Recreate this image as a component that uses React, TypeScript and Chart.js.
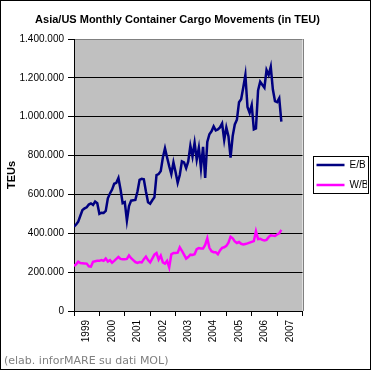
import { useEffect, useRef } from 'react';
import { Chart, registerables } from 'chart.js';

Chart.register(...registerables);

const TITLE = 'Asia/US Monthly Container Cargo Movements (in TEU)';
const FOOTER = '(elab. inforMARE su dati MOL)';
const Y_TITLE = 'TEUs';
const YEARS = ['1999', '2000', '2001', '2002', '2003', '2004', '2005', '2006', '2007'];
const SERIES_NAMES = ['E/B', 'W/B'];

// Monthly TEU, starting Jan 1999
const EB = [
  434000, 445000, 460000, 490000, 520000, 528000, 534000, 548000, 554000, 546000, 563000, 555000,
  500000, 506000, 505000, 515000, 580000, 605000, 625000, 655000, 660000, 685000, 625000, 555000,
  560000, 465000, 540000, 568000, 570000, 572000, 615000, 675000, 680000, 678000, 615000, 560000,
  552000, 570000, 585000, 700000, 705000, 720000, 790000, 837000, 790000, 745000, 705000, 765000,
  715000, 660000, 700000, 770000, 765000, 735000, 770000, 850000, 795000, 865000, 780000, 840000,
  735000, 845000, 685000, 870000, 910000, 925000, 950000, 930000, 935000, 945000, 965000, 880000,
  945000, 900000, 790000, 900000, 960000, 985000, 1075000, 1090000, 1150000, 1215000, 1050000, 1020000,
  1060000, 935000, 940000, 1135000, 1180000, 1165000, 1150000, 1240000, 1215000, 1257000, 1140000, 1080000,
  1075000, 1095000, 975000,
];

const WB = [
  232000, 240000, 254000, 247000, 246000, 245000, 244000, 230000, 228000, 253000, 256000, 258000,
  258000, 262000, 258000, 270000, 255000, 262000, 249000, 258000, 268000, 278000, 268000, 266000,
  266000, 268000, 286000, 272000, 262000, 252000, 248000, 252000, 250000, 266000, 280000, 262000,
  250000, 270000, 290000, 298000, 265000, 285000, 250000, 244000, 258000, 224000, 292000, 298000,
  298000, 300000, 328000, 310000, 290000, 270000, 278000, 290000, 288000, 292000, 318000, 324000,
  322000, 322000, 340000, 374000, 325000, 308000, 303000, 303000, 292000, 312000, 325000, 328000,
  335000, 352000, 382000, 374000, 358000, 350000, 355000, 346000, 342000, 345000, 348000, 352000,
  356000, 360000, 410000, 370000, 372000, 366000, 363000, 366000, 380000, 390000, 388000, 386000,
  394000, 400000, 418000,
];

const Y_MAX = 1400000;
const Y_STEP = 200000;
const MONTHS_SPAN = YEARS.length * 12;

const FONT = 'Liberation Sans, Arial, sans-serif';

const fmt = (v: number) => String(Math.round(v)).replace(/\B(?=(\d{3})+(?!\d))/g, '.');

const plotBg = {
  id: 'plotBg',
  afterLayout(chart: any) {
    // the original title is centred slightly left of the canvas centre
    if (chart.titleBlock) chart.titleBlock.right -= 16;
  },
  beforeDraw(chart: any) {
    const { ctx, chartArea } = chart;
    const { left, top, right, bottom } = chartArea;
    ctx.save();
    ctx.fillStyle = '#C0C0C0';
    ctx.fillRect(left, top, right - left, bottom - top);
    ctx.strokeStyle = '#808080';
    ctx.lineWidth = 1;
    ctx.beginPath();
    ctx.moveTo(Math.round(right) + 0.5, Math.round(top));
    ctx.lineTo(Math.round(right) + 0.5, Math.round(bottom));
    ctx.stroke();
    ctx.restore();
  },
};

const legendBox = {
  id: 'legendBox',
  afterDraw(chart: any) {
    const lg = chart.legend;
    if (!lg || !lg.legendHitBoxes || !lg.legendHitBoxes.length) return;
    let l = Infinity, t = Infinity, r = -Infinity, b = -Infinity;
    for (const h of lg.legendHitBoxes) {
      l = Math.min(l, h.left);
      t = Math.min(t, h.top);
      r = Math.max(r, h.left + h.width);
      b = Math.max(b, h.top + h.height);
    }
    const { ctx } = chart;
    ctx.save();
    ctx.strokeStyle = '#000';
    ctx.lineWidth = 1;
    const x0 = Math.round(l - 4) + 0.5;
    const y0 = Math.round(t - 4) + 0.5;
    const x1 = Math.round(r) + 0.5;
    const y1 = Math.round(b + 3) + 0.5;
    ctx.strokeRect(x0, y0, x1 - x0, y1 - y0);
    ctx.restore();
  },
};

export default function App() {
  const ref = useRef<HTMLCanvasElement>(null);

  useEffect(() => {
    document.body.style.margin = '0';
    const canvas = ref.current;
    if (!canvas) return;
    const chart = new Chart(canvas, {
      type: 'line',
      data: {
        datasets: [
          {
            label: SERIES_NAMES[0],
            data: EB.map((y, i) => ({ x: i, y })),
            borderColor: '#000080',
            backgroundColor: '#000080',
            borderWidth: 2.5,
            pointRadius: 0,
            tension: 0,
            xAxisID: 'x',
            yAxisID: 'y',
          },
          {
            label: SERIES_NAMES[1],
            data: WB.map((y, i) => ({ x: i, y })),
            borderColor: '#FF00FF',
            backgroundColor: '#FF00FF',
            borderWidth: 2.5,
            pointRadius: 0,
            tension: 0,
            xAxisID: 'x',
            yAxisID: 'y',
          },
        ],
      },
      options: {
        responsive: false,
        animation: false,
        events: [],
        devicePixelRatio: 1,
        layout: { padding: { left: 3, right: 3, top: 0, bottom: 0 } },
        scales: {
          x: {
            type: 'linear',
            position: 'bottom',
            weight: 0,
            min: 0,
            max: MONTHS_SPAN,
            ticks: { display: false, stepSize: 12 },
            grid: { display: true, drawOnChartArea: false, drawTicks: true, tickLength: 5, color: '#000', tickColor: '#000' },
            border: { display: true, color: '#000', width: 1 },
            afterFit: (s: any) => { s.height = 6; },
          },
          x2: {
            type: 'category',
            position: 'bottom',
            weight: 1,
            labels: YEARS,
            offset: true,
            grid: { display: false, drawTicks: false },
            border: { display: false },
            ticks: {
              autoSkip: false,
              maxRotation: 90,
              minRotation: 90,
              padding: 3,
              color: '#000',
              font: { family: FONT, size: 10 },
            },
            afterFit: (s: any) => { s.height = 26; },
          },
          y: {
            type: 'linear',
            position: 'left',
            min: 0,
            max: Y_MAX,
            ticks: {
              stepSize: Y_STEP,
              color: '#000',
              padding: 4,
              font: { family: FONT, size: 10 },
              callback: (v: any) => fmt(Number(v)),
            },
            grid: {
              color: (c: any) => (c.tick && c.tick.value === Y_MAX ? '#808080' : '#000'),
              tickColor: '#000',
              tickLength: 6,
              lineWidth: 1,
            },
            border: { display: true, color: '#000', width: 1 },
            title: {
              display: true,
              text: Y_TITLE,
              color: '#000',
              font: { family: FONT, size: 11, weight: 'bold' },
              padding: { top: 1, bottom: 0 },
            },
            afterFit: (s: any) => { s.width = 70; },
          },
          y2: {
            type: 'linear',
            position: 'right',
            display: true,
            weight: 0,
            grid: { display: false },
            border: { display: false },
            ticks: { display: false },
            afterFit: (s: any) => { s.width = 4; },
          },
        },
        plugins: {
          title: {
            display: true,
            text: TITLE,
            color: '#000',
            font: { family: FONT, size: 11, weight: 'bold', lineHeight: 1.2 },
            padding: { top: 12, bottom: 12.8 },
          },
          subtitle: {
            display: true,
            text: FOOTER,
            position: 'bottom',
            align: 'start',
            color: '#808080',
            font: { family: 'DejaVu Sans, sans-serif', size: 11, weight: 'normal', lineHeight: 1.2 },
            padding: { top: 11.4, bottom: 1.4 },
          },
          legend: {
            display: true,
            position: 'right',
            fullSize: false,
            labels: {
              usePointStyle: true,
              pointStyle: 'line',
              pointStyleWidth: 28,
              padding: 10,
              color: '#000',
              font: { family: FONT, size: 10 },
            },
          },
          tooltip: { enabled: false },
        },
      } as any,
      plugins: [plotBg, legendBox],
    });
    return () => chart.destroy();
  }, []);

  return (
    <div
      style={{
        width: 371,
        height: 370,
        border: '1px solid #000',
        boxSizing: 'border-box',
        background: '#fff',
        position: 'relative',
      }}
    >
      <canvas ref={ref} width={369} height={368} style={{ display: 'block', width: 369, height: 368 }} />
    </div>
  );
}
